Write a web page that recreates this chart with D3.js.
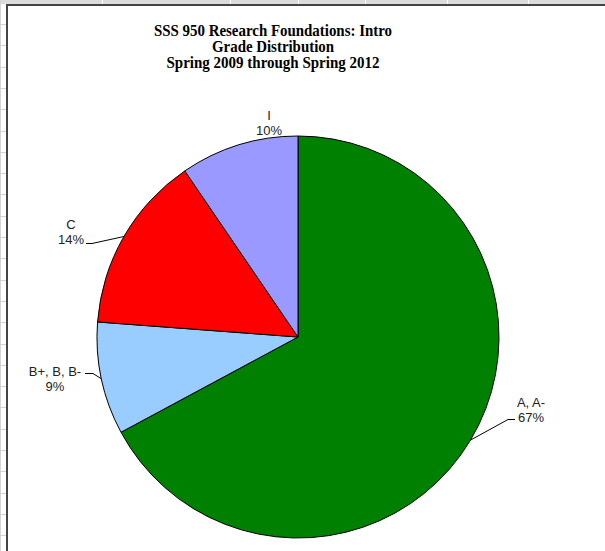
<!DOCTYPE html>
<html lang="en">
<head>
    <meta charset="UTF-8">
    <title>SSS 950 Grade Distribution</title>
    <script src="https://d3js.org/d3.v7.min.js"></script>
    <style>
        body {
            margin: 0;
            background-color: #fff;
        }
        .title {
            font-family: "Liberation Serif", "Times New Roman", serif;
            font-weight: bold;
            font-size: 16px;
            text-anchor: middle;
            fill: #000;
        }
        .pie-label {
            font-family: "Liberation Sans", Arial, sans-serif;
            font-size: 13px;
            text-anchor: middle;
            fill: #222;
        }
        .slice {
            stroke: #000;
            stroke-width: 1px;
        }
        .leader {
            fill: none;
            stroke: #000;
            stroke-width: 1px;
        }
    </style>
</head>
<body>
    <div id="chart"></div>

    <script>
        // Grade categories (clockwise from 12 o'clock) and student counts
        const grades = ["A, A-", "B+, B, B-", "C", "I"];
        const counts = [141, 19, 30, 20];
        const colors = ["#008000", "#99ccff", "#ff0000", "#9999ff"];
        const titleLines = [
            "SSS 950 Research Foundations: Intro",
            "Grade  Distribution",
            "Spring 2009 through Spring 2012"
        ];

        const width = 605, height = 551;
        const cx = 298, cy = 337, radius = 201;

        const svg = d3.select('#chart')
            .append('svg')
            .attr('width', width)
            .attr('height', height);

        // spreadsheet behind the chart: header strip and row lines
        svg.append('rect')
            .attr('x', 0).attr('y', 0)
            .attr('width', width).attr('height', 4)
            .attr('fill', '#dcdcdc');
        svg.selectAll('.col-sep')
            .data([102, 230, 298, 365, 447, 528])
            .enter().append('line')
            .attr('x1', d => d + 0.5).attr('x2', d => d + 0.5)
            .attr('y1', 0).attr('y2', 4)
            .attr('stroke', '#fff');
        svg.selectAll('.row-sep')
            .data(d3.range(24, height, 21.3))
            .enter().append('line')
            .attr('x1', 0).attr('x2', 7)
            .attr('y1', d => Math.round(d) + 0.5).attr('y2', d => Math.round(d) + 0.5)
            .attr('stroke', '#d4d4d4');
        svg.append('line')
            .attr('x1', 0.5).attr('x2', 0.5)
            .attr('y1', 0).attr('y2', height)
            .attr('stroke', '#d4d4d4');

        // chart area border (only top and left visible)
        svg.append('rect')
            .attr('x', 8).attr('y', 5)
            .attr('width', width).attr('height', height)
            .attr('fill', '#fff');
        svg.append('path')
            .attr('d', `M7,${height} L7,5 L${width},5`)
            .attr('fill', 'none')
            .attr('stroke', '#444')
            .attr('stroke-width', 2);

        // title
        const titleWidths = [238, 122, 213];
        svg.selectAll('.title')
            .data(titleLines)
            .enter().append('text')
            .attr('class', 'title')
            .attr('x', 273)
            .attr('y', (d, i) => 36 + i * 16)
            .attr('textLength', (d, i) => titleWidths[i])
            .attr('lengthAdjust', 'spacingAndGlyphs')
            .text(d => d);

        // pie
        const total = d3.sum(counts);
        const pieData = d3.pie().sort(null).value(d => d)(counts);
        const arc = d3.arc().innerRadius(0).outerRadius(radius);
        const color = d3.scaleOrdinal().domain(grades).range(colors);

        const g = svg.append('g')
            .attr('transform', `translate(${cx}, ${cy})`);

        g.selectAll('.slice')
            .data(pieData)
            .enter().append('path')
            .attr('class', 'slice')
            .attr('d', arc)
            .attr('fill', (d, i) => color(grades[i]));

        // label layout (Excel-style placement): text centre x, first baseline,
        // and where the leader line meets the label (null = no leader)
        const labelLayout = [
            { x: 531, y: 407, end: [515, 419], stub: -7 },
            { x: 55, y: 376, end: [85, 373], stub: 8 },
            { x: 71, y: 229, end: [86, 243], stub: 6 },
            { x: 269, y: 120, end: null }
        ];

        pieData.forEach((d, i) => {
            const lay = labelLayout[i];
            const pct = Math.round(d.value / total * 100) + '%';
            const t = svg.append('text')
                .attr('class', 'pie-label')
                .attr('x', lay.x)
                .attr('y', lay.y);
            t.append('tspan').attr('x', lay.x).text(grades[i]);
            t.append('tspan').attr('x', lay.x).attr('dy', 15).text(pct);

            if (lay.end) {
                const mid = (d.startAngle + d.endAngle) / 2;
                const px = cx + radius * Math.sin(mid);
                const py = cy - radius * Math.cos(mid);
                const ex = lay.end[0], ey = lay.end[1];
                svg.append('path')
                    .attr('class', 'leader')
                    .attr('d', `M${px},${py} L${ex + lay.stub},${ey + 0.5} L${ex},${ey + 0.5}`);
            }
        });
    </script>
</body>
</html>
